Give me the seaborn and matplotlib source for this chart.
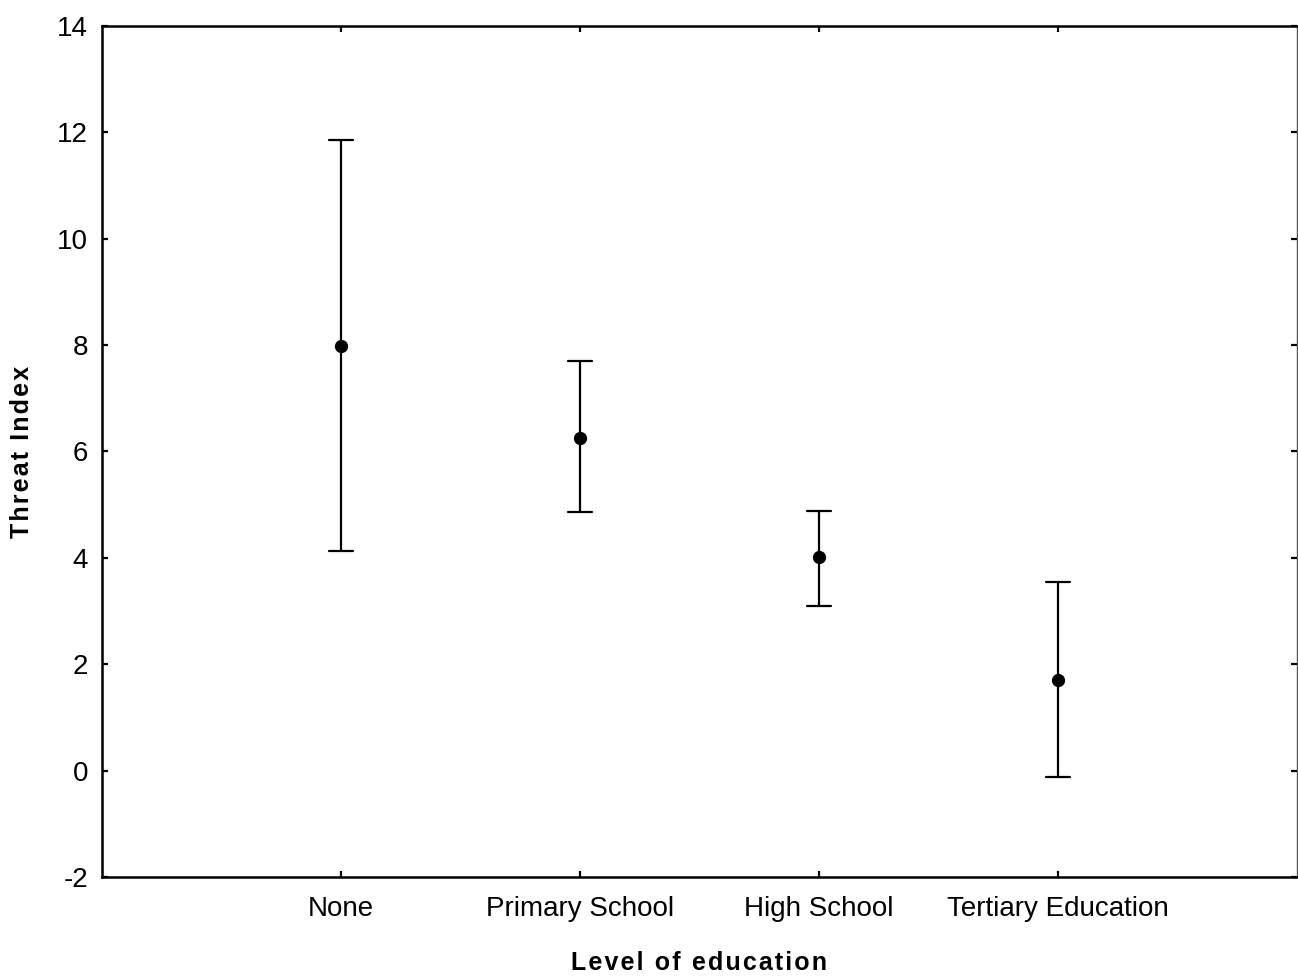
import matplotlib
matplotlib.use("Agg")
import matplotlib.pyplot as plt
import seaborn as sns
import pandas as pd

categories = ["None", "Primary School", "High School", "Tertiary Education"]
means = [7.98, 6.26, 4.01, 1.70]
lower = [4.12, 4.86, 3.09, -0.12]
upper = [11.86, 7.70, 4.88, 3.54]
yticks = [-2, 0, 2, 4, 6, 8, 10, 12, 14]
x_title = "Level of education"
y_title = "Threat Index"

rows = []
for c, lo, m, hi in zip(categories, lower, means, upper):
    for v in (lo, m, hi):
        rows.append({"Level of education": c, "Threat Index": v})
df = pd.DataFrame(rows)

sns.set_theme(style="white")
plt.rcParams["font.family"] = ["Liberation Sans", "DejaVu Sans"]
plt.rcParams["text.color"] = "black"
plt.rcParams["axes.labelcolor"] = "black"
plt.rcParams["xtick.color"] = "black"
plt.rcParams["ytick.color"] = "black"

fig = plt.figure(figsize=(12.98, 9.76), dpi=100)
ax = fig.add_axes([0.0786, 0.1014, 0.9205, 0.872])

sns.pointplot(data=df, x="Level of education", y="Threat Index", order=categories,
              estimator="median", errorbar=("pi", 100), capsize=0.1,
              color="black", linestyle="none", marker="o", markersize=7.5,
              err_kws={"linewidth": 1.6}, ax=ax)

ax.set_xlim(-1, 4)
ax.set_ylim(-2, 14)
ax.set_yticks(yticks)
ax.set_yticklabels([str(t) for t in yticks])

for side in ("left", "top", "bottom"):
    ax.spines[side].set_linewidth(1.8)
    ax.spines[side].set_color("black")
ax.spines["right"].set_linewidth(1.0)
ax.spines["right"].set_color("#555555")

ax.tick_params(axis="both", direction="in", length=4, width=1.6, color="black",
               labelcolor="black", labelsize=20, top=True, right=True,
               bottom=True, left=True, labeltop=False, labelright=False)
ax.tick_params(axis="x", pad=14)
ax.tick_params(axis="y", pad=10)

spaced_x = "\u200a".join(x_title)
spaced_y = "\u200a".join(y_title)
ax.set_xlabel(spaced_x, fontsize=18, fontweight="bold",
              va="baseline", ha="center")
ax.set_ylabel(spaced_y, fontsize=18, fontweight="bold",
              va="center", ha="center")
ax.xaxis.set_label_coords(0.5, -0.1093)
ax.yaxis.set_label_coords(-0.0669, 0.5)

fig.savefig("out.png", dpi=100)
